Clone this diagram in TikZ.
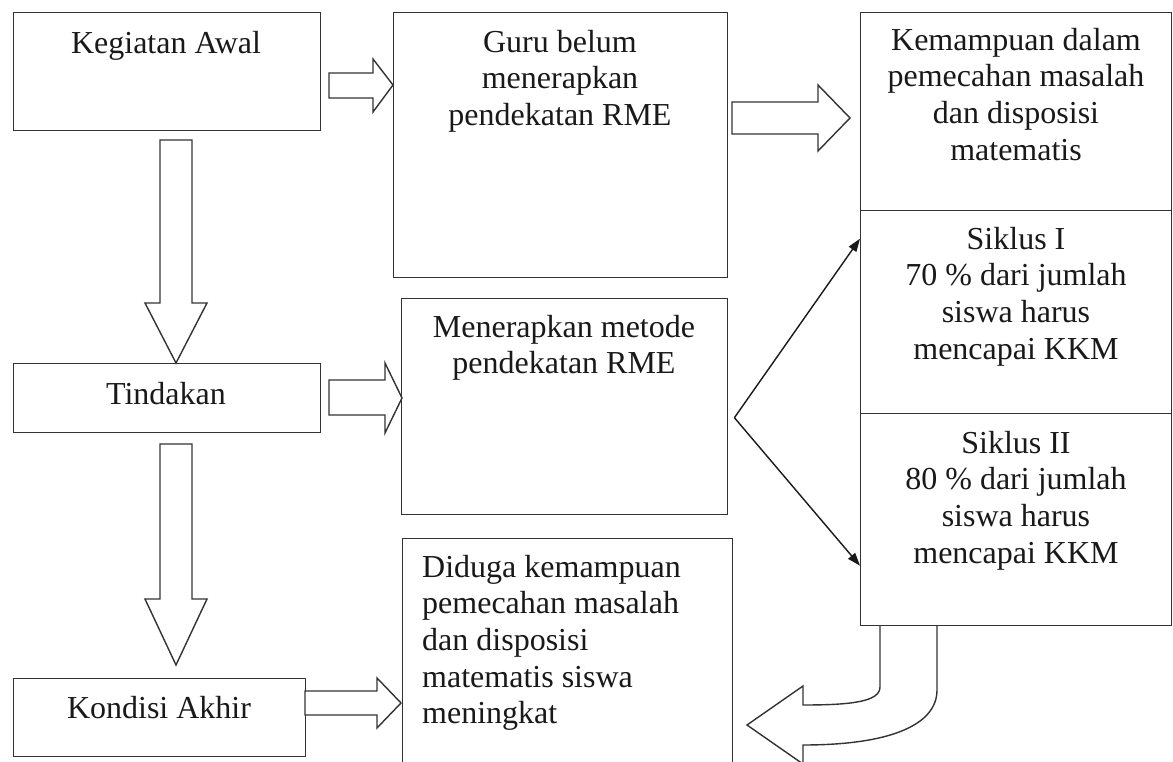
\documentclass[tikz,border=0pt]{standalone}
\usepackage{fontspec}
\setmainfont{Liberation Serif}
\usetikzlibrary{arrows.meta,calc}
\begin{document}
\begin{tikzpicture}[x=1pt,y=-1pt,
  box/.style={draw=black!80, line width=1.4pt, rectangle, inner sep=0pt, anchor=north west},
  txt/.style={inner sep=0pt, font=\fontsize{32}{36.6}\selectfont, align=center, anchor=north, text=black!90},
  blk/.style={draw=black!80, line width=1.4pt, fill=white, line join=miter},
  thinarrow/.style={draw=black!90, line width=1.4pt, -{Triangle[length=13pt,width=9pt]}}]
\useasboundingbox (0,0) rectangle (1173,762);
\clip (0,0) rectangle (1173,762);
\fill[white] (0,0) rectangle (1173,762);

% boxes
\node[box, minimum width=307pt, minimum height=118pt] (keg) at (13,12) {};
\node[box, minimum width=334pt, minimum height=265pt] (guru) at (393,12) {};
\node[box, minimum width=311pt, minimum height=198pt] (kem) at (860,12) {};
\node[box, minimum width=311pt, minimum height=203pt] (s1) at (860,210) {};
\node[box, minimum width=311pt, minimum height=212pt] (s2) at (860,413) {};
\node[box, minimum width=307pt, minimum height=69pt] (tin) at (13,363) {};
\node[box, minimum width=326pt, minimum height=216pt] (men) at (401,298) {};
\node[box, minimum width=292pt, minimum height=78pt] (kon) at (13,678) {};
\node[box, minimum width=330pt, minimum height=240pt] (dug) at (402,538) {};

% texts
\node[txt] (tkeg) at (166,27.4) {\strut Kegiatan Awal};
\node[txt] (tguru) at (560,26.4) {\strut Guru belum\\menerapkan\\pendekatan RME};
\node[txt] (tkem) at (1016,24.4) {\strut Kemampuan dalam\\pemecahan masalah\\dan disposisi\\matematis};
\node[txt] (ts1) at (1016,223.4) {\strut Siklus I\\70 \% dari jumlah\\siswa harus\\mencapai KKM};
\node[txt] (ts2) at (1016,427.4) {\strut Siklus II\\80 \% dari jumlah\\siswa harus\\mencapai KKM};
\node[txt] (ttin) at (166,378.4) {\strut Tindakan};
\node[txt] (tmen) at (564,311.4) {\strut Menerapkan metode\\pendekatan RME};
\node[txt] (tkon) at (159,692.4) {\strut Kondisi Akhir};
\node[txt, anchor=north west, align=left] (tdug) at (422,551.4) {\strut Diduga kemampuan\\pemecahan masalah\\dan disposisi\\matematis siswa\\meningkat};

% block arrows
\draw[blk] (329,73) -- (373,73) -- (373,59) -- (393,85) -- (373,112) -- (373,98) -- (329,98) -- cycle;
\draw[blk] (732,102) -- (818,102) -- (818,85) -- (850,118) -- (818,151) -- (818,134) -- (732,134) -- cycle;
\draw[blk] (329,380) -- (385,380) -- (385,363) -- (402,398) -- (385,433) -- (385,415) -- (329,415) -- cycle;
\draw[blk] (305,691) -- (377,691) -- (377,678) -- (401,703) -- (377,728) -- (377,715) -- (305,715) -- cycle;
\draw[blk] (160,140) -- (192,140) -- (192,303) -- (207,303) -- (176,363) -- (145,303) -- (160,303) -- cycle;
\draw[blk] (160,444) -- (192,444) -- (192,599) -- (207,599) -- (176,665) -- (145,599) -- (160,599) -- cycle;

% curved block arrow
\draw[blk, fill=none] (937,625) -- (937,690) .. controls (937,725) and (890,745) .. (803,745)
  -- (803,764) -- (747,725) -- (803,686) -- (803,705)
  .. controls (850,705) and (880,702) .. (880,687) -- (880,625);

% thin arrows
\coordinate (fork) at ($(men.east)+(6,11)$);
\draw[thinarrow] (fork) -- ($(s1.west)+(0,-73.5)$);
\draw[thinarrow] (fork) -- ($(s2.west)+(0,46)$);
\end{tikzpicture}
\end{document}
